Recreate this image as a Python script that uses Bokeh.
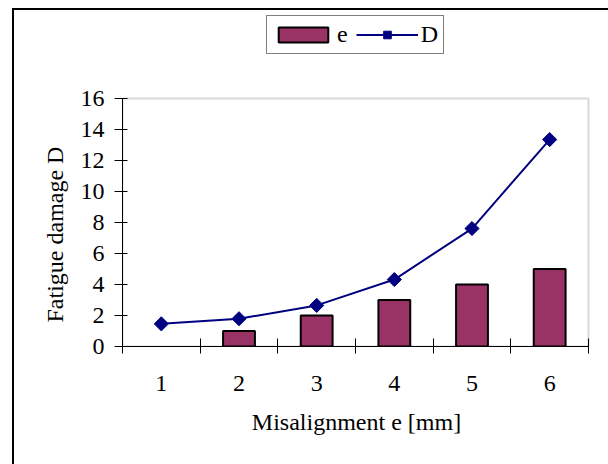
from bokeh.plotting import figure
from bokeh.models import (FixedTicker, Range1d, Legend, LegendItem, BoxAnnotation,
                          ColumnDataSource, InlineStyleSheet)
from bokeh.embed import file_html
from bokeh.resources import INLINE

# ---- data ----
misalignment = [1, 2, 3, 4, 5, 6]
e_values = [0, 1, 2, 3, 4, 5]
D_values = [1.46, 1.79, 2.65, 4.32, 7.61, 13.35]
y_ticks = [0, 2, 4, 6, 8, 10, 12, 14, 16]

FONT = "Liberation Serif"
FS = "24px"

# layout: the frame extends above the drawn plot area (room for the legend);
# the drawn plot area (x 0.5..6.5, y 0..16) is limited with axis bounds
X_LO, X_HI = 0.5, 6.5
Y_LO, Y_HI = 0, 16
FRAME_W, FRAME_H = 468, 346           # pixels of the frame
AREA_W, AREA_H = 466, 248             # pixels of the plot area
x_end = X_LO + (X_HI - X_LO) * FRAME_W / AREA_W
y_end = Y_LO + (Y_HI - Y_LO) * FRAME_H / AREA_H

src = ColumnDataSource(dict(x=misalignment, e=e_values, D=D_values,
                            edge=[1.0 if v > 0 else 0.0 for v in e_values]))

p = figure(width=608, height=464, output_backend="svg", toolbar_location=None,
           x_range=Range1d(X_LO, x_end), y_range=Range1d(Y_LO, y_end),
           title="Fatigue damage D", title_location="left",
           min_border_left=122, min_border_top=0, min_border_right=18, min_border_bottom=118)
p.background_fill_alpha = 0
p.border_fill_alpha = 0
p.outline_line_color = None
p.xgrid.visible = False
p.ygrid.visible = False

# y-axis title, placed along the 0..16 plot area
p.title.text_font = FONT
p.title.text_font_size = FS
p.title.text_font_style = "normal"
p.title.text_color = "black"
p.title.align = "left"
p.title.offset = 24
p.title.standoff = 20

# plot-area border, gray
p.add_layout(BoxAnnotation(left=X_LO, right=X_HI, bottom=Y_LO, top=Y_HI,
                           fill_alpha=0, line_color="#808080", line_width=2,
                           level="underlay"))

bars = p.vbar(x="x", top="e", width=0.41, bottom=0, source=src,
              fill_color="#993366", line_color="black", line_width=2, line_alpha="edge")
line = p.line(x="x", y="D", source=src, line_color="#000080", line_width=2)
pts = p.scatter(x="x", y="D", source=src, marker="square", size=10, angle=45,
                angle_units="deg", fill_color="#000080", line_color="#000080")

# x axis
xa = p.xaxis[0]
xa.bounds = (X_LO, X_HI)
xa.ticker = FixedTicker(ticks=misalignment,
                        minor_ticks=[m - 0.5 for m in misalignment] + [misalignment[-1] + 0.5])
xa.major_tick_in = 0
xa.major_tick_out = 0
xa.minor_tick_in = 8
xa.minor_tick_out = 7
xa.minor_tick_line_color = "black"
xa.axis_line_color = "black"
xa.major_label_standoff = 22
xa.major_label_text_font = FONT
xa.major_label_text_font_size = FS
xa.major_label_text_color = "black"
xa.axis_label = "Misalignment e [mm]"
xa.axis_label_text_font = FONT
xa.axis_label_text_font_size = FS
xa.axis_label_text_font_style = "normal"
xa.axis_label_text_color = "black"
xa.axis_label_standoff = 15

# y axis
ya = p.yaxis[0]
ya.bounds = (Y_LO, Y_HI)
ya.ticker = FixedTicker(ticks=y_ticks, minor_ticks=[])
ya.major_tick_in = 5
ya.major_tick_out = 8
ya.major_tick_line_color = "black"
ya.axis_line_color = "black"
ya.major_label_standoff = 10
ya.major_label_text_font = FONT
ya.major_label_text_font_size = FS
ya.major_label_text_color = "black"

legend = Legend(items=[LegendItem(label="e", renderers=[bars], index=1),
                       LegendItem(label="D", renderers=[line, pts])],
                orientation="horizontal", location=(144, 292),
                glyph_width=62, glyph_height=19, label_standoff=3, spacing=8,
                padding=5, margin=0, label_height=15, label_width=10,
                label_text_font=FONT, label_text_font_size=FS, label_text_color="black",
                border_line_color="black", border_line_width=1,
                background_fill_color="white", background_fill_alpha=1)
p.add_layout(legend, "center")

# outer chart-area border (left and top edges visible in the reference)
p.stylesheets = [InlineStyleSheet(css=(
    ":host { box-shadow: inset 12px 8px 0 0 white, inset 14px 10px 0 0 black; }"))]

open("out.html", "w").write(file_html(p, INLINE))
